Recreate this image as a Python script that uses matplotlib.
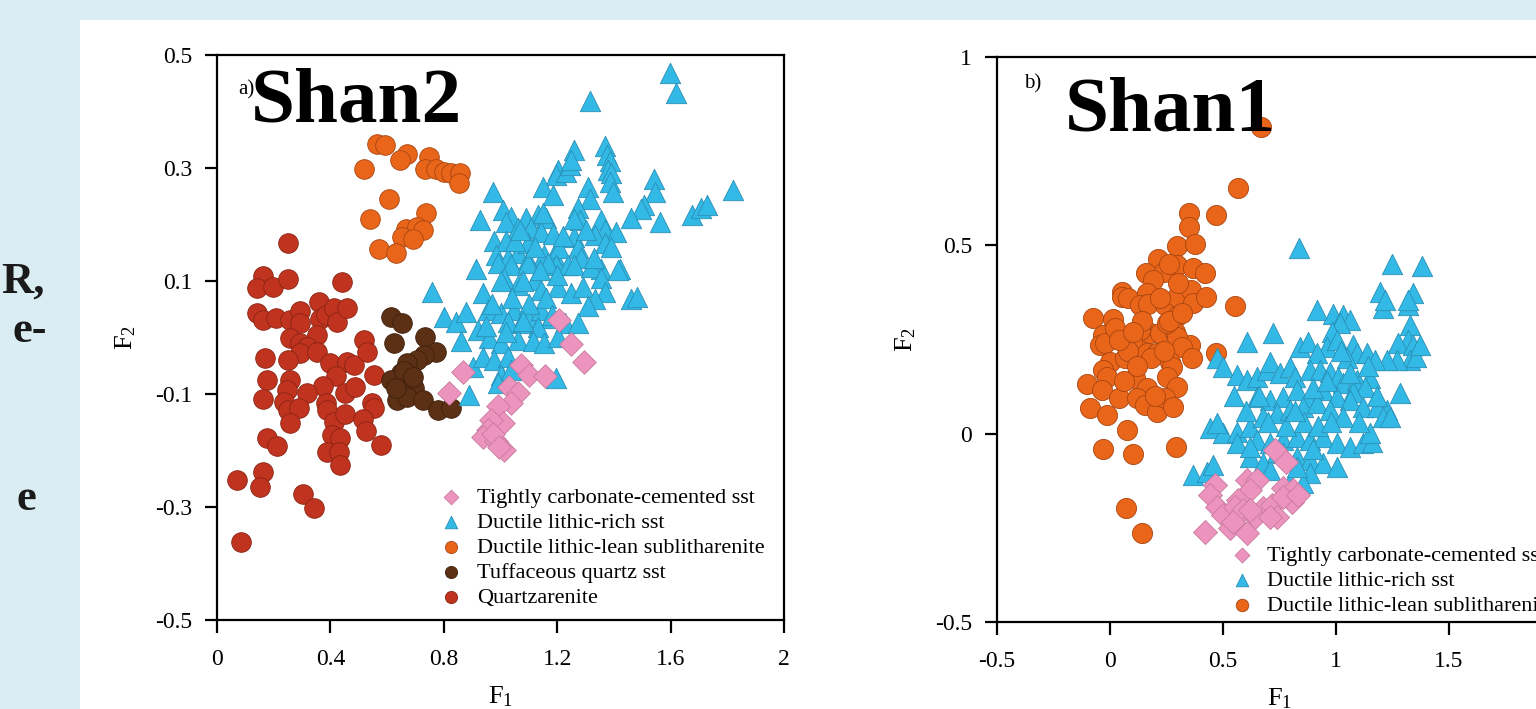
import matplotlib
matplotlib.use("Agg")
import matplotlib.pyplot as plt
from matplotlib.patches import Rectangle

plt.rcParams['font.family'] = ['Liberation Serif', 'DejaVu Serif']
plt.rcParams['mathtext.default'] = 'regular'

# ---- panel a (Shan2) data: F1, F2 ----
red_a_x = [0.250, 0.164, 0.141, 0.199, 0.252, 0.441, 0.141, 0.164, 0.209, 0.258, 0.294, 0.294,
           0.359, 0.365, 0.386, 0.412, 0.424, 0.457, 0.258, 0.294, 0.353, 0.318, 0.294, 0.353,
           0.170, 0.252, 0.400, 0.459, 0.482, 0.518, 0.530, 0.176, 0.258, 0.247, 0.418, 0.374,
           0.318, 0.453, 0.488, 0.553, 0.164, 0.235, 0.252, 0.288, 0.386, 0.388, 0.412, 0.450,
           0.548, 0.553, 0.516, 0.527, 0.258, 0.176, 0.211, 0.406, 0.435, 0.388, 0.429, 0.577,
           0.435, 0.072, 0.164, 0.150, 0.305, 0.341, 0.084]
red_a_y = [0.167, 0.108, 0.087, 0.090, 0.103, 0.099, 0.044, 0.031, 0.034, 0.031, 0.047, 0.025,
           0.063, 0.032, 0.040, 0.052, 0.028, 0.052, -0.001, -0.010, 0.004, -0.016, -0.028, -0.025,
           -0.037, -0.040, -0.046, -0.043, -0.049, -0.004, -0.025, -0.075, -0.075, -0.093, -0.069, -0.086,
           -0.099, -0.099, -0.087, -0.066, -0.108, -0.114, -0.128, -0.125, -0.116, -0.128, -0.149, -0.135,
           -0.116, -0.125, -0.145, -0.165, -0.152, -0.178, -0.192, -0.173, -0.177, -0.202, -0.202, -0.190,
           -0.226, -0.253, -0.238, -0.264, -0.277, -0.302, -0.362]

brown_a_x = [0.612, 0.654, 0.624, 0.733, 0.772, 0.730, 0.707, 0.671, 0.648, 0.612, 0.677, 0.695,
             0.636, 0.671, 0.725, 0.778, 0.825, 0.660, 0.690, 0.630]
brown_a_y = [0.037, 0.025, -0.010, 0.001, -0.025, -0.031, -0.040, -0.046, -0.063, -0.075, -0.075, -0.090,
             -0.111, -0.105, -0.111, -0.128, -0.125, -0.060, -0.070, -0.090]

orange_a_x = [0.563, 0.591, 0.671, 0.645, 0.518, 0.748, 0.733, 0.772, 0.799, 0.825, 0.858, 0.854,
              0.606, 0.736, 0.539, 0.665, 0.707, 0.725, 0.654, 0.693, 0.573, 0.630]
orange_a_y = [0.342, 0.341, 0.324, 0.315, 0.299, 0.319, 0.299, 0.299, 0.293, 0.292, 0.292, 0.273,
              0.246, 0.220, 0.209, 0.192, 0.195, 0.190, 0.178, 0.174, 0.156, 0.149]

pink_a_x = [1.208, 1.250, 1.294, 0.866, 0.819, 1.073, 1.102, 1.158, 1.031, 1.061, 1.037, 0.990,
            1.008, 0.966, 0.955, 0.937, 0.984, 0.972, 1.013, 0.996]
pink_a_y = [0.031, -0.012, -0.043, -0.061, -0.099, -0.049, -0.066, -0.069, -0.087, -0.099, -0.116, -0.122,
            -0.152, -0.146, -0.164, -0.176, -0.184, -0.170, -0.199, -0.193]

blue_a_x = [1.598, 1.619, 1.314, 1.259, 1.367, 1.377, 1.385, 1.379, 1.391, 1.385, 1.397, 1.202,
            1.196, 1.232, 1.244, 1.250, 1.149, 1.185, 1.309, 1.314, 1.542, 1.544, 1.507, 1.495,
            1.462, 1.562, 1.819, 1.674, 1.707, 1.727, 0.972, 0.928, 1.008, 1.037, 1.019, 1.090,
            1.132, 1.161, 1.061, 1.108, 1.143, 1.185, 1.273, 1.279, 1.356, 1.367, 1.332, 1.409,
            1.367, 1.391, 1.261, 1.273, 1.285, 0.978, 1.019, 0.984, 1.025, 1.061, 1.096, 1.096,
            1.155, 1.190, 1.208, 1.196, 1.238, 0.913, 1.421, 1.356, 0.990, 1.037, 1.096, 1.167,
            1.261, 1.320, 1.415, 1.356, 1.367, 1.462, 1.480, 0.760, 0.937, 1.013, 1.061, 1.120,
            1.143, 1.202, 1.250, 1.291, 1.332, 1.309, 0.801, 0.842, 0.878, 0.955, 1.002, 1.049,
            1.096, 1.143, 1.179, 1.226, 1.273, 1.132, 1.073, 1.025, 0.860, 0.919, 0.960, 1.002,
            1.061, 1.114, 1.155, 1.202, 0.902, 0.937, 0.978, 1.025, 1.002, 0.890, 1.196, 0.990,
            1.037, 1.050, 1.120, 1.140, 1.080, 1.000, 0.970, 1.040, 1.100, 1.160, 1.200, 1.220,
            1.260, 1.300, 1.330, 1.020, 0.950, 1.080, 1.180, 1.150, 1.070]
blue_a_y = [0.468, 0.432, 0.419, 0.332, 0.339, 0.323, 0.312, 0.296, 0.292, 0.276, 0.257, 0.296,
            0.288, 0.293, 0.305, 0.314, 0.267, 0.252, 0.267, 0.246, 0.281, 0.257, 0.235, 0.227,
            0.211, 0.205, 0.261, 0.217, 0.229, 0.235, 0.258, 0.208, 0.226, 0.214, 0.205, 0.211,
            0.217, 0.211, 0.193, 0.193, 0.187, 0.184, 0.229, 0.208, 0.208, 0.190, 0.181, 0.187,
            0.167, 0.161, 0.178, 0.158, 0.140, 0.170, 0.170, 0.146, 0.140, 0.149, 0.167, 0.137,
            0.146, 0.146, 0.158, 0.128, 0.128, 0.122, 0.122, 0.122, 0.131, 0.128, 0.131, 0.131,
            0.128, 0.125, 0.119, 0.105, 0.081, 0.069, 0.072, 0.081, 0.078, 0.105, 0.093, 0.102,
            0.084, 0.090, 0.078, 0.090, 0.069, 0.055, 0.037, 0.028, 0.046, 0.049, 0.043, 0.049,
            0.037, 0.049, 0.034, 0.025, 0.025, 0.019, 0.025, 0.028, -0.007, 0.013, -0.001, -0.010,
            -0.004, -0.007, -0.010, 0.001, -0.052, -0.034, -0.040, -0.034, -0.066, -0.102, -0.072, -0.081,
            -0.058, 0.170, 0.160, 0.120, 0.100, 0.100, 0.060, 0.070, 0.060, 0.070, 0.110, 0.180,
            0.210, 0.190, 0.140, 0.010, 0.020, 0.030, 0.040, 0.220, 0.190]

# ---- panel b (Shan1) data ----
orange_b_x = [0.667, 0.568, 0.350, 0.468, 0.350, 0.298, 0.376, 0.214, 0.295, 0.366, 0.420, 0.159,
              0.240, 0.189, 0.052, 0.052, 0.081, 0.162, 0.133, 0.170, 0.243, 0.298, 0.357, 0.366,
              0.425, 0.553, 0.298, -0.074, 0.012, 0.280, -0.030, 0.044, 0.111, 0.177, 0.221, 0.133,
              -0.044, 0.354, -0.022, 0.096, 0.288, 0.295, 0.251, 0.317, 0.361, 0.000, 0.066, 0.162,
              0.206, 0.265, 0.273, -0.030, -0.015, 0.111, 0.162, 0.251, 0.295, -0.100, -0.037, 0.041,
              0.118, 0.155, 0.206, 0.243, 0.280, -0.088, -0.012, 0.074, -0.032, 0.103, 0.292, 0.468,
              0.071, 0.143, 0.020, 0.080, 0.140, 0.180, 0.240, 0.260, 0.060, 0.200, 0.120, 0.220,
              0.300, 0.260, 0.320, 0.040, 0.100]
orange_b_y = [0.815, 0.651, 0.587, 0.580, 0.549, 0.498, 0.503, 0.465, 0.448, 0.439, 0.426, 0.427,
              0.430, 0.408, 0.377, 0.364, 0.359, 0.374, 0.342, 0.344, 0.342, 0.364, 0.381, 0.346,
              0.362, 0.339, 0.312, 0.306, 0.305, 0.275, 0.262, 0.257, 0.250, 0.266, 0.266, 0.275,
              0.235, 0.235, 0.240, 0.244, 0.271, 0.257, 0.293, 0.231, 0.200, 0.191, 0.200, 0.213,
              0.213, 0.191, 0.178, 0.169, 0.151, 0.147, 0.120, 0.151, 0.125, 0.132, 0.116, 0.096,
              0.096, 0.076, 0.058, 0.096, 0.072, 0.067, 0.050, 0.010, -0.042, -0.054, -0.035, 0.213,
              -0.198, -0.265, 0.280, 0.220, 0.300, 0.200, 0.220, 0.300, 0.140, 0.100, 0.180, 0.360,
              0.400, 0.450, 0.320, 0.250, 0.270]

pink_b_x = [0.730, 0.779, 0.465, 0.443, 0.472, 0.501, 0.605, 0.649, 0.619, 0.568, 0.553, 0.590,
            0.678, 0.715, 0.738, 0.642, 0.619, 0.767, 0.811, 0.804, 0.767, 0.833, 0.420, 0.531,
            0.605, 0.546, 0.708]
pink_b_y = [-0.043, -0.074, -0.136, -0.163, -0.194, -0.216, -0.123, -0.123, -0.150, -0.176, -0.194, -0.203,
            -0.198, -0.189, -0.220, -0.220, -0.203, -0.145, -0.150, -0.181, -0.167, -0.163, -0.260, -0.251,
            -0.265, -0.234, -0.220]

blue_b_x = [0.915, 0.988, 1.032, 1.062, 1.018, 1.209, 1.320, 1.327, 1.320, 1.276, 1.342, 1.327,
            1.269, 1.224, 1.283, 0.981, 0.959, 1.003, 1.077, 1.092, 1.047, 1.136, 1.173, 1.150,
            0.605, 0.723, 0.841, 0.877, 0.915, 0.472, 0.501, 0.561, 0.605, 0.649, 0.693, 0.708,
            0.752, 0.796, 0.819, 0.885, 0.929, 0.973, 1.010, 1.032, 1.092, 1.128, 1.077, 1.224,
            0.649, 0.708, 0.767, 0.826, 0.885, 0.944, 1.003, 1.062, 1.121, 1.180, 1.209, 0.442,
            0.501, 0.561, 0.619, 0.678, 0.738, 0.796, 0.855, 0.915, 0.973, 1.032, 0.649, 0.708,
            0.767, 0.826, 0.885, 0.944, 1.003, 1.062, 1.121, 1.158, 0.767, 0.826, 0.885, 0.944,
            1.003, 0.885, 0.855, 0.369, 0.428, 0.457, 0.472, 0.619, 0.678, 0.708, 0.796, 0.826,
            0.561, 0.619, 1.150, 1.239, 1.248, 1.381, 1.195, 1.217, 1.341, 1.319, 1.354, 1.372,
            0.836, 0.700, 0.780, 0.860, 0.920, 0.980, 0.740, 0.820, 0.900, 0.960, 1.060, 1.140,
            1.020, 0.660, 0.600, 0.550, 0.900, 1.100, 1.180]
blue_b_y = [0.328, 0.319, 0.315, 0.302, 0.293, 0.333, 0.342, 0.288, 0.249, 0.240, 0.235, 0.196,
            0.196, 0.196, 0.107, 0.271, 0.231, 0.249, 0.235, 0.213, 0.200, 0.213, 0.196, 0.147,
            0.244, 0.266, 0.231, 0.244, 0.213, 0.200, 0.178, 0.156, 0.142, 0.151, 0.169, 0.191,
            0.160, 0.178, 0.151, 0.169, 0.169, 0.164, 0.151, 0.134, 0.142, 0.125, 0.111, 0.063,
            0.098, 0.089, 0.098, 0.116, 0.098, 0.116, 0.098, 0.089, 0.072, 0.072, 0.045, 0.014,
            0.001, 0.005, 0.018, 0.045, 0.054, 0.063, 0.072, 0.081, 0.063, 0.045, -0.017, -0.026,
            -0.017, -0.008, -0.017, -0.008, -0.026, -0.035, -0.026, -0.021, -0.052, -0.061, -0.070, -0.079,
            -0.088, -0.105, -0.132, -0.110, -0.101, -0.083, 0.027, -0.061, -0.079, -0.096, -0.132, -0.088,
            -0.026, -0.035, 0.001, 0.045, 0.450, 0.445, 0.376, 0.355, 0.373, 0.355, 0.203, 0.235,
            0.493, 0.030, 0.020, 0.030, 0.020, 0.030, -0.050, 0.060, 0.120, 0.140, 0.160, 0.180,
            0.220, 0.100, 0.060, 0.100, -0.040, 0.030, 0.100]

labels = ['Tightly carbonate-cemented sst', 'Ductile lithic-rich sst',
          'Ductile lithic-lean sublitharenite', 'Tuffaceous quartz sst', 'Quartzarenite']
pink, blue, orange, brown, red = '#ec94be', '#33b9e6', '#e8651a', '#5c3014', '#c0331f'

fig = plt.figure(figsize=(15.36, 7.09), dpi=100)
fig.patch.set_facecolor('#daedf3')
fig.patches.append(Rectangle((80 / 1536, 0), 1, 1 - 20 / 709, transform=fig.transFigure,
                             facecolor='white', edgecolor='none', zorder=-10))

for txt, x, y in [('R,', 45, 282), ('e-', 47, 331), ('e', 36, 499)]:
    fig.text(x / 1536, 1 - y / 709, txt, ha='right', va='center', fontsize=32,
             fontweight='bold', color='#1a1a1a')


def style(ax, xt, yt, xlab, ylab):
    ax.set_facecolor('none')
    for s in ax.spines.values():
        s.set_linewidth(1.6)
    ax.tick_params(direction='out', length=9, width=1.6, labelsize=17, top=False, right=False)
    ax.tick_params(axis='x', pad=12)
    ax.tick_params(axis='y', pad=9)
    ax.set_xticks(xt)
    ax.set_yticks(yt)
    ax.set_xticklabels(xlab)
    ax.set_yticklabels(ylab)
    ax.set_xlabel(r'F$_1$', fontsize=19, labelpad=10)
    ax.set_ylabel(r'F$_2$', fontsize=19, labelpad=12)


def draw(ax, series):
    hs = []
    for x, y, m, c, ec, s, lab in series:
        h = ax.scatter(x, y, marker=m, s=s, c=c, edgecolors=ec, linewidths=0.6, label=lab)
        hs.append(h)
    return hs


# panel a
ax1 = fig.add_axes([217 / 1536, 1 - 620 / 709, 567 / 1536, 565 / 709])
series_a = [
    (red_a_x, red_a_y, 'o', red, '#8a2414', 200, labels[4]),
    (brown_a_x, brown_a_y, 'o', brown, '#3d1f0c', 200, labels[3]),
    (orange_a_x, orange_a_y, 'o', orange, '#a84510', 200, labels[2]),
    (blue_a_x, blue_a_y, '^', blue, '#2a8fb5', 215, labels[1]),
    (pink_a_x, pink_a_y, 'D', pink, '#c77a9e', 145, labels[0]),
]
h = draw(ax1, series_a)
ax1.set_xlim(0, 2)
ax1.set_ylim(-0.5, 0.5)
style(ax1, [0, 0.4, 0.8, 1.2, 1.6, 2], [-0.5, -0.3, -0.1, 0.1, 0.3, 0.5],
      ['0', '0.4', '0.8', '1.2', '1.6', '2'], ['-0.5', '-0.3', '-0.1', '0.1', '0.3', '0.5'])
ax1.legend(h[::-1], labels, loc='upper left', bbox_to_anchor=(0.37, 0.255), frameon=False,
           fontsize=16, markerscale=0.62, handletextpad=0.55, labelspacing=0.2,
           borderpad=0, handlelength=1.2)
ax1.text(0.037, 0.955, 'a)', transform=ax1.transAxes, fontsize=15, va='top')
ax1.text(0.06, 0.978, 'Shan2', transform=ax1.transAxes, fontsize=57, fontweight='bold', va='top')

# panel b (right part runs past the picture's edge, as in the source)
ax2 = fig.add_axes([997 / 1536, 1 - 622 / 709, 565 / 1536, 565 / 709])
series_b = [
    (orange_b_x, orange_b_y, 'o', orange, '#a84510', 210, labels[2]),
    (blue_b_x, blue_b_y, '^', blue, '#2a8fb5', 215, labels[1]),
    (pink_b_x, pink_b_y, 'D', pink, '#c77a9e', 150, labels[0]),
]
h2 = draw(ax2, series_b)
ax2.set_xlim(-0.5, 2)
ax2.set_ylim(-0.5, 1)
style(ax2, [-0.5, 0, 0.5, 1, 1.5], [-0.5, 0, 0.5, 1],
      ['-0.5', '0', '0.5', '1', '1.5'], ['-0.5', '0', '0.5', '1'])
ax2.legend(h2[::-1], labels[:3], loc='upper left', bbox_to_anchor=(0.39, 0.155), frameon=False,
           fontsize=16, markerscale=0.62, handletextpad=0.55, labelspacing=0.2,
           borderpad=0, handlelength=1.2)
ax2.text(0.048, 0.97, 'b)', transform=ax2.transAxes, fontsize=15, va='top')
ax2.text(0.12, 0.965, 'Shan1', transform=ax2.transAxes, fontsize=57, fontweight='bold', va='top')

fig.savefig('out.png', dpi=100, facecolor=fig.get_facecolor())
